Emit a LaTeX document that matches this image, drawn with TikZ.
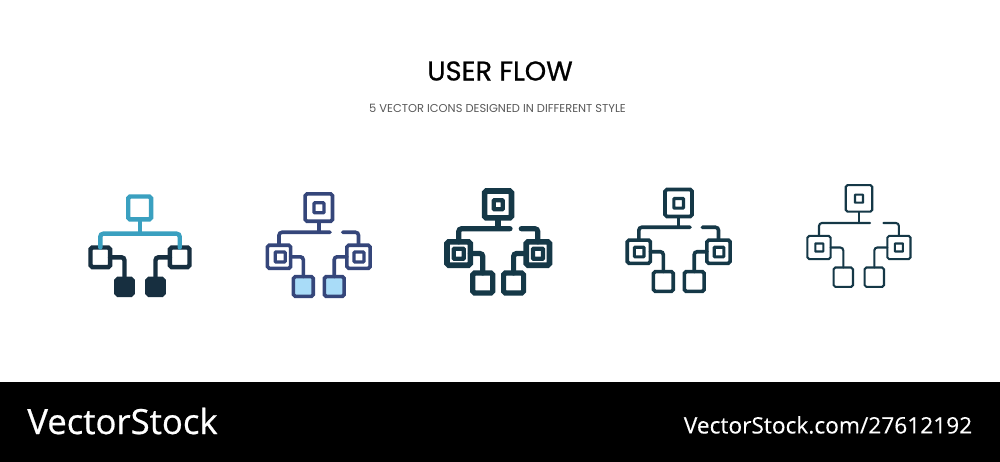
\documentclass[tikz,border=0pt]{standalone}
\usepackage{fontspec}
\setmainfont[FakeBold=0.2]{Open Sans}
\newfontfamily\ttlfont[FakeBold=0.7]{Poppins}
\newfontfamily\subfont{Poppins}
\newfontfamily\logofont[FakeBold=0.6]{Open Sans}
\definecolor{teal}{HTML}{3AA0C0}
\definecolor{navy}{HTML}{172F40}
\definecolor{indigo}{HTML}{35467A}
\definecolor{sky}{HTML}{A9DCF8}
\definecolor{pine}{HTML}{153847}
\tikzset{
  ubox/.style={rectangle,draw,outer sep=0pt,inner sep=0pt,minimum size=#1,rounded corners=1.8pt},
  wire/.style={draw,line cap=round,rounded corners=3pt},
  stem/.style={draw,line cap=butt}
}
\begin{document}
\begin{tikzpicture}[x=1pt,y=-1pt]
\useasboundingbox (0,0) rectangle (1000,462);
\fill[white] (0,0) rectangle (1000,462);
\fill[black] (0,382) rectangle (1000,462);
\node[font=\ttlfont\fontsize{27.2}{27}\selectfont,text=black] (title) at (500,71) {USER FLOW};
\node[font=\subfont\fontsize{11.45}{11}\selectfont,text=black!65] (subtitle) at (497.5,108.5) {5 VECTOR ICONS DESIGNED IN DIFFERENT STYLE};
\node[font=\logofont\fontsize{34.7}{34}\selectfont,text=white] (logo) at (122.5,421) {VectorStock};
\node[font=\fontsize{22.7}{24}\selectfont,text=white] (url) at (828,425) {VectorStock.com/27612192};

% icon 1
\begin{scope}[line width=4.4pt]
\node[ubox=22.9pt,draw=teal] (a0) at (139.7,208) {};
\node[ubox=19.6pt,draw=navy] (a1) at (100.3,257.3) {};
\node[ubox=19.6pt,draw=navy] (a2) at (179.7,257.3) {};
\node[ubox=16.2pt,draw=navy,fill=navy] (a3) at (124.5,286.8) {};
\node[ubox=16.2pt,draw=navy,fill=navy] (a4) at (155.5,286.8) {};
\coordinate (ab) at (139.7,233.7);
\path[wire,draw=teal] (a1.north) |- (ab) -| (a2.north);
\path[stem,draw=teal] (a0.south) -- (ab);
\path[wire,draw=navy] (a1.east) -| (a3.north);
\path[wire,draw=navy] (a2.west) -| (a4.north);
\end{scope}

% icon 2
\begin{scope}[line width=3.6pt]
\node[ubox=27.4pt,draw=indigo] (b0) at (318.8,207.6) {};
\node[ubox=10pt,draw=indigo,line width=3.2pt,rounded corners=0.8pt] (b0i) at (319,207.8) {};
\node[ubox=23.2pt,draw=indigo] (b1) at (279,256.8) {};
\node[ubox=10pt,draw=indigo,line width=3.2pt,rounded corners=0.8pt] (b1i) at (280.2,257) {};
\node[ubox=23.2pt,draw=indigo] (b2) at (358.5,256.8) {};
\node[ubox=10pt,draw=indigo,line width=3.2pt,rounded corners=0.8pt] (b2i) at (359,257) {};
\node[ubox=19.8pt,draw=indigo,fill=sky] (b3) at (303.3,286.5) {};
\node[ubox=19.8pt,draw=indigo,fill=sky] (b4) at (334.2,286.5) {};
\coordinate (bb) at (318.8,232.3);
\coordinate (be) at (330,232.3);
\coordinate (bf) at (342.7,232.3);
\path[wire,draw=indigo] (b1.north) |- (be);
\path[wire,draw=indigo] (bf) -| (b2.north);
\path[stem,draw=indigo] (b0.south) -- (bb);
\path[wire,draw=indigo] (b1.east) -| (b3.north);
\path[wire,draw=indigo] (b2.west) -| (b4.north);
\end{scope}

% icon 3
\begin{scope}[line width=5.2pt]
\node[ubox=26.8pt,draw=pine,line width=5.7pt] (c0) at (498,204.5) {};
\node[ubox=9pt,draw=pine,line width=4.2pt,rounded corners=0.6pt] (c0i) at (498.2,204.8) {};
\node[ubox=23.3pt,draw=pine,line width=5.7pt] (c1) at (458.7,253.5) {};
\node[ubox=10pt,draw=pine,line width=4.2pt,rounded corners=0.6pt] (c1i) at (458.7,253.8) {};
\node[ubox=23.3pt,draw=pine,line width=5.7pt] (c2) at (537.8,253.5) {};
\node[ubox=10pt,draw=pine,line width=4.2pt,rounded corners=0.6pt] (c2i) at (538,253.8) {};
\node[ubox=20pt,draw=pine] (c3) at (482.8,283) {};
\node[ubox=20pt,draw=pine] (c4) at (513.6,283) {};
\coordinate (cb) at (498,228.7);
\coordinate (ce) at (510,228.7);
\coordinate (cf) at (521.3,228.7);
\path[wire,draw=pine] (c1.north) |- (ce);
\path[wire,draw=pine] (cf) -| (c2.north);
\path[stem,draw=pine] (c0.south) -- (cb);
\path[wire,draw=pine] (c1.east) -| (c3.north);
\path[wire,draw=pine] (c2.west) -| (c4.north);
\end{scope}

% icon 4
\begin{scope}[line width=3.6pt]
\node[ubox=27pt,draw=pine] (d0) at (678.5,203) {};
\node[ubox=9.7pt,draw=pine,line width=3.2pt,rounded corners=0.8pt] (d0i) at (678.7,203.3) {};
\node[ubox=23.2pt,draw=pine] (d1) at (638.8,251.7) {};
\node[ubox=9.7pt,draw=pine,line width=3.2pt,rounded corners=0.8pt] (d1i) at (639.2,252) {};
\node[ubox=23.2pt,draw=pine] (d2) at (718.5,251.7) {};
\node[ubox=9.7pt,draw=pine,line width=3.2pt,rounded corners=0.8pt] (d2i) at (719,252) {};
\node[ubox=19.8pt,draw=pine] (d3) at (663.3,281.5) {};
\node[ubox=19.8pt,draw=pine] (d4) at (694.2,281.5) {};
\coordinate (db) at (678.5,227.3);
\coordinate (de) at (690,227.3);
\coordinate (df) at (702.3,227.3);
\path[wire,draw=pine] (d1.north) |- (de);
\path[wire,draw=pine] (df) -| (d2.north);
\path[stem,draw=pine] (d0.south) -- (db);
\path[wire,draw=pine] (d1.east) -| (d3.north);
\path[wire,draw=pine] (d2.west) -| (d4.north);
\end{scope}

% icon 5
\begin{scope}[line width=2.1pt]
\node[ubox=26.5pt,draw=pine] (e0) at (859,198.4) {};
\node[ubox=8pt,draw=pine,rounded corners=0.4pt] (e0i) at (859,198.7) {};
\node[ubox=23.2pt,draw=pine] (e1) at (819,247.5) {};
\node[ubox=8pt,draw=pine,rounded corners=0.4pt] (e1i) at (819.3,247.5) {};
\node[ubox=23.2pt,draw=pine] (e2) at (898.9,247.5) {};
\node[ubox=8pt,draw=pine,rounded corners=0.4pt] (e2i) at (898.9,247.5) {};
\node[ubox=19.4pt,draw=pine] (e3) at (843.3,277.2) {};
\node[ubox=19.4pt,draw=pine] (e4) at (874.3,277.2) {};
\coordinate (eb) at (859,223);
\coordinate (ee) at (870,223);
\coordinate (ef) at (883.3,223);
\path[wire,draw=pine] (e1.north) |- (ee);
\path[wire,draw=pine] (ef) -| (e2.north);
\path[stem,draw=pine] (e0.south) -- (eb);
\path[wire,draw=pine] (e1.east) -| (e3.north);
\path[wire,draw=pine] (e2.west) -| (e4.north);
\end{scope}
\end{tikzpicture}
\end{document}
